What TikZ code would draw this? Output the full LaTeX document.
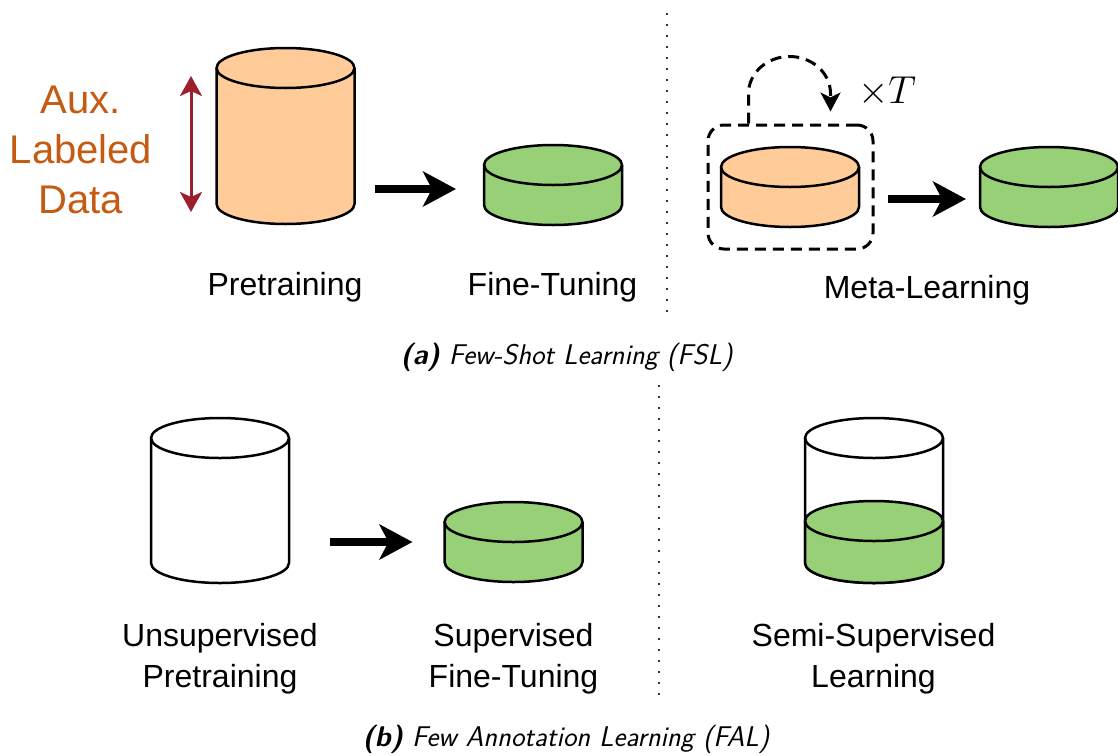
\RequirePackage{fix-cm}
\documentclass[tikz,border=0pt]{standalone}
\usepackage{fontspec}
\newfontfamily\arialf{Liberation Sans}
\usetikzlibrary{arrows.meta,calc}
\definecolor{orfill}{HTML}{FFCC99}
\definecolor{grfill}{HTML}{97D077}
\definecolor{auxtxt}{HTML}{C55A11}
\definecolor{auxarr}{HTML}{9C1F30}
\tikzset{
  cylline/.style={line width=2.5pt, line join=round},
  cylbox/.style={inner sep=0pt, outer sep=0pt, minimum width=138pt},
  bigarrow/.style={line width=8pt, -{Stealth[length=33pt,width=35pt,inset=9pt]}},
  auxarrow/.style={auxarr, line width=3pt, {Stealth[length=20pt,width=22pt,inset=5pt]}-{Stealth[length=20pt,width=22pt,inset=5pt]}},
  dashbox/.style={draw, line width=3pt, dash pattern=on 11pt off 7pt, rounded corners=16pt, inner sep=0pt},
  looparrow/.style={line width=3pt, dash pattern=on 11pt off 7pt, -{Stealth[length=19pt,width=20pt,inset=5pt]}},
  sepline/.style={line width=2.3pt, dash pattern=on 2.3pt off 8.7pt, black!80},
  lbl/.style={font=\arialf\fontsize{32}{41}\selectfont, align=center, inner sep=0pt},
  auxlbl/.style={font=\arialf\fontsize{40}{50}\selectfont, align=center, text=auxtxt, inner sep=0pt},
  captxt/.style={font=\sffamily\itshape\fontsize{28.5}{34}\selectfont, inner sep=0pt},
}
\newcommand{\drawcyl}[4]{%
  \fill[#4] (#1-69,#2) -- (#1-69,#3) arc[start angle=180,end angle=360,x radius=69pt,y radius=20pt] -- (#1+69,#2) arc[start angle=0,end angle=180,x radius=69pt,y radius=20pt] -- cycle;
  \draw[cylline] (#1-69,#2) -- (#1-69,#3) arc[start angle=180,end angle=360,x radius=69pt,y radius=20pt] -- (#1+69,#2);
  \draw[cylline] (#1,#2) ellipse[x radius=69pt,y radius=20pt];
}
\begin{document}
\begin{tikzpicture}[x=1pt,y=-1pt]
\useasboundingbox (0,0) rectangle (1118,755);
\fill[white] (0,0) rectangle (1118,755);

% ---------- (a) FSL ----------
\drawcyl{285.5}{68}{204}{orfill}
\node[cylbox, minimum height=136pt] (pre) at (285.5,136) {};
\drawcyl{553}{165}{205}{grfill}
\node[cylbox, minimum height=40pt] (ft) at (553,185) {};

\node[auxlbl] (aux) at (81,150) {Aux.\\Labeled\\Data};
\coordinate (auxtop) at ($(pre.north west)+(-25.5,8)$);
\coordinate (auxbot) at ($(pre.south west)+(-25.5,8)$);
\draw[auxarrow] (auxtop) -- (auxbot);

\draw[bigarrow] ($(pre.east |- ft.center)+(20,4)$) -- ($(ft.west)+(-28,4)$);

\node[lbl] (lpre) at (285,287) {Pretraining};
\node[lbl] (lft) at (552.5,287) {Fine-Tuning};

\coordinate (d1t) at (667,13);
\coordinate (d1b) at (667,320);
\draw[sepline] (d1t) -- (d1b);

\drawcyl{790}{167}{207}{orfill}
\node[cylbox, minimum height=40pt] (mo) at (790,187) {};
\drawcyl{1049}{167}{207}{grfill}
\node[cylbox, minimum height=40pt] (mg) at (1049,187) {};
\node[dashbox, minimum width=165pt, minimum height=124pt] (box) at (790.5,187) {};
\coordinate (looptip) at ($(box.north west)+(124,-12)$);
\draw[looparrow] ($(box.north west)+(42,0)$) -- ++(0,-30) arc[start angle=180,end angle=0,x radius=41pt,y radius=37pt] -- (looptip);
\node[font=\fontsize{39}{39}\selectfont, inner sep=0pt] (xt) at (887,92) {$\times T$};
\draw[bigarrow] ($(box.east)+(13,12)$) -- ($(mg.west)+(-14,12)$);
\node[lbl] (lmeta) at (927,290) {Meta-Learning};

\node[captxt] (capa) at (566.5,357) {{\bfseries (a)} Few-Shot Learning (FSL)};

% ---------- (b) FAL ----------
\drawcyl{220}{438}{563}{white}
\node[cylbox, minimum height=125pt] (unsup) at (220,500.5) {};
\drawcyl{513.5}{522}{562}{grfill}
\node[cylbox, minimum height=40pt] (sup) at (513.5,542) {};
\draw[bigarrow] ($(unsup.east |- sup.center)+(41,0)$) -- ($(sup.west)+(-32,0)$);

\coordinate (d2t) at (659,385);
\coordinate (d2b) at (659,700);
\draw[sepline] (d2t) -- (d2b);

\drawcyl{874}{438}{563}{white}
\fill[grfill] (874-69,521) -- (874-69,563) arc[start angle=180,end angle=360,x radius=69pt,y radius=20pt] -- (874+69,521) arc[start angle=0,end angle=180,x radius=69pt,y radius=20pt] -- cycle;
\draw[cylline] (874-69,521) -- (874-69,563) arc[start angle=180,end angle=360,x radius=69pt,y radius=20pt] -- (874+69,521);
\draw[cylline] (874,521) ellipse[x radius=69pt,y radius=20pt];
\draw[cylline] (874-69,438) -- (874-69,521);
\draw[cylline] (874+69,438) -- (874+69,521);
\node[cylbox, minimum height=125pt] (semi) at (874,500.5) {};

\node[lbl] (lunsup) at (220,658.5) {Unsupervised\\Pretraining};
\node[lbl] (lsup) at (513.5,658.5) {Supervised\\Fine-Tuning};
\node[lbl] (lsemi) at (873.5,658.5) {Semi-Supervised\\Learning};

\node[captxt] (capb) at (566,739) {{\bfseries (b)} Few Annotation Learning (FAL)};
\end{tikzpicture}
\end{document}
